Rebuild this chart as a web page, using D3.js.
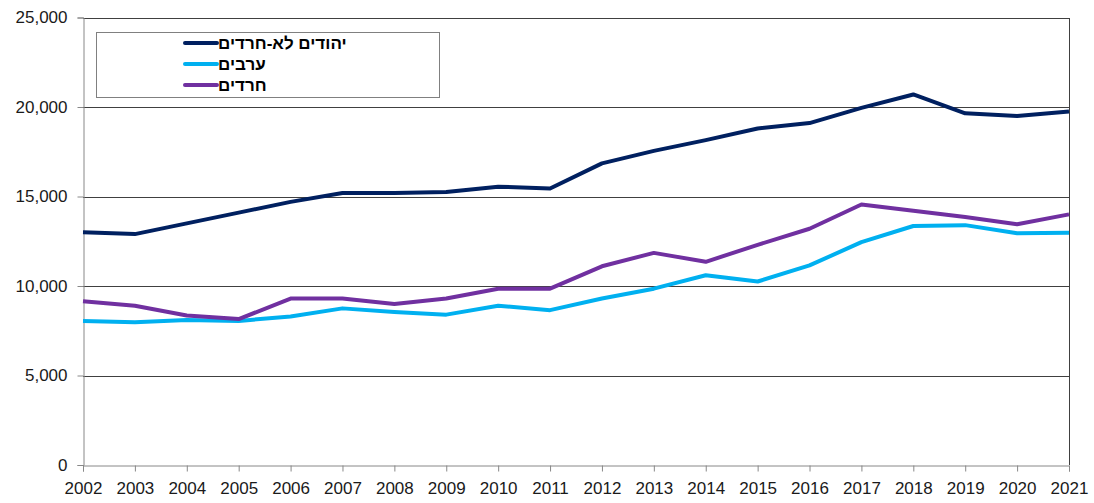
<!DOCTYPE html>
<html>
<head>
<meta charset="utf-8">
<script src="https://cdn.jsdelivr.net/npm/d3@7"></script>
<style>
  html, body { margin: 0; padding: 0; background: #fff; }
  svg { display: block; }
  text { font-family: "Liberation Sans", Arial, sans-serif; }
</style>
</head>
<body>
<svg id="chart" width="1094" height="503"></svg>
<script>
const years = [2002,2003,2004,2005,2006,2007,2008,2009,2010,2011,2012,2013,2014,2015,2016,2017,2018,2019,2020,2021];
const nonHaredi = [13000,12900,13500,14100,14700,15200,15200,15250,15550,15450,16850,17550,18150,18800,19100,19950,20700,19650,19500,19750];
const arabs = [8050,7980,8100,8050,8300,8750,8550,8400,8900,8650,9300,9850,10600,10250,11150,12450,13350,13400,12950,12980];
const haredi = [9150,8900,8350,8150,9300,9300,9000,9300,9850,9850,11100,11850,11350,12300,13200,14550,14200,13850,13450,14000];
const yTicks = [0,5000,10000,15000,20000,25000];
const seriesNames = ["יהודים לא-חרדים","ערבים","חרדים"];
const seriesColors = ["#002060","#00B0F0","#7030A0"];

const series = [
  {name: seriesNames[0], color: seriesColors[0], values: nonHaredi},
  {name: seriesNames[1], color: seriesColors[1], values: arabs},
  {name: seriesNames[2], color: seriesColors[2], values: haredi}
];

const svg = d3.select("#chart");
const pLeft = 83, pRight = 1069, pTop = 17.5, pBottom = 465;

const x = d3.scaleLinear().domain([years[0], years[years.length-1]]).range([pLeft, pRight]);
const y = d3.scaleLinear().domain([0, 25000]).range([pBottom, pTop]);

// gridlines
svg.append("g").selectAll("line").data(yTicks.filter(d => d > 0)).join("line")
  .attr("x1", pLeft).attr("x2", pRight)
  .attr("y1", d => Math.round(y(d)) + 0.5).attr("y2", d => Math.round(y(d)) + 0.5)
  .attr("stroke", "#404040").attr("stroke-width", 1);

// right border
svg.append("line").attr("x1", pRight + 0.5).attr("x2", pRight + 0.5)
  .attr("y1", Math.round(pTop)).attr("y2", pBottom)
  .attr("stroke", "#404040").attr("stroke-width", 1);

// y axis
const yAxis = d3.axisLeft(y).tickValues(yTicks).tickSize(6).tickPadding(10)
  .tickFormat(d3.format(","));
const gy = svg.append("g").attr("transform", `translate(${pLeft + 0.5},0)`).call(yAxis);
gy.select(".domain").attr("stroke", "#888888");
gy.selectAll(".tick line").attr("stroke", "#888888");
gy.selectAll(".tick text").attr("font-size", 17).attr("fill", "#1a1a1a")
  .attr("font-family", "'Liberation Sans', Arial, sans-serif");

// x axis
const xAxis = d3.axisBottom(x).tickValues(years).tickSize(6).tickPadding(10)
  .tickFormat(d3.format("d"));
const gx = svg.append("g").attr("transform", `translate(0,${pBottom + 0.5})`).call(xAxis);
gx.select(".domain").attr("stroke", "#888888");
gx.selectAll(".tick line").attr("stroke", "#888888");
gx.selectAll(".tick text").attr("font-size", 17).attr("fill", "#1a1a1a")
  .attr("font-family", "'Liberation Sans', Arial, sans-serif");

// lines
const line = d3.line().x((d, i) => x(years[i])).y(d => y(d));
svg.append("g").selectAll("path").data(series).join("path")
  .attr("d", d => line(d.values))
  .attr("fill", "none")
  .attr("stroke", d => d.color)
  .attr("stroke-width", 4)
  .attr("stroke-linejoin", "round")
  .attr("stroke-linecap", "butt");

// legend
const lg = svg.append("g");
lg.append("rect").attr("x", 96.5).attr("y", 32.5).attr("width", 343).attr("height", 65)
  .attr("fill", "#fff").attr("stroke", "#808080").attr("stroke-width", 1);
const rowsY = [43, 64, 85];
series.forEach((s, i) => {
  lg.append("line").attr("x1", 185).attr("x2", 217)
    .attr("y1", rowsY[i]).attr("y2", rowsY[i])
    .attr("stroke", s.color).attr("stroke-width", 4).attr("stroke-linecap", "round");
  lg.append("text").attr("x", 218).attr("y", rowsY[i])
    .attr("dy", "0.35em")
    .attr("font-size", 17).attr("font-weight", "bold").attr("fill", "#000")
    .text(s.name);
});
</script>
</body>
</html>
